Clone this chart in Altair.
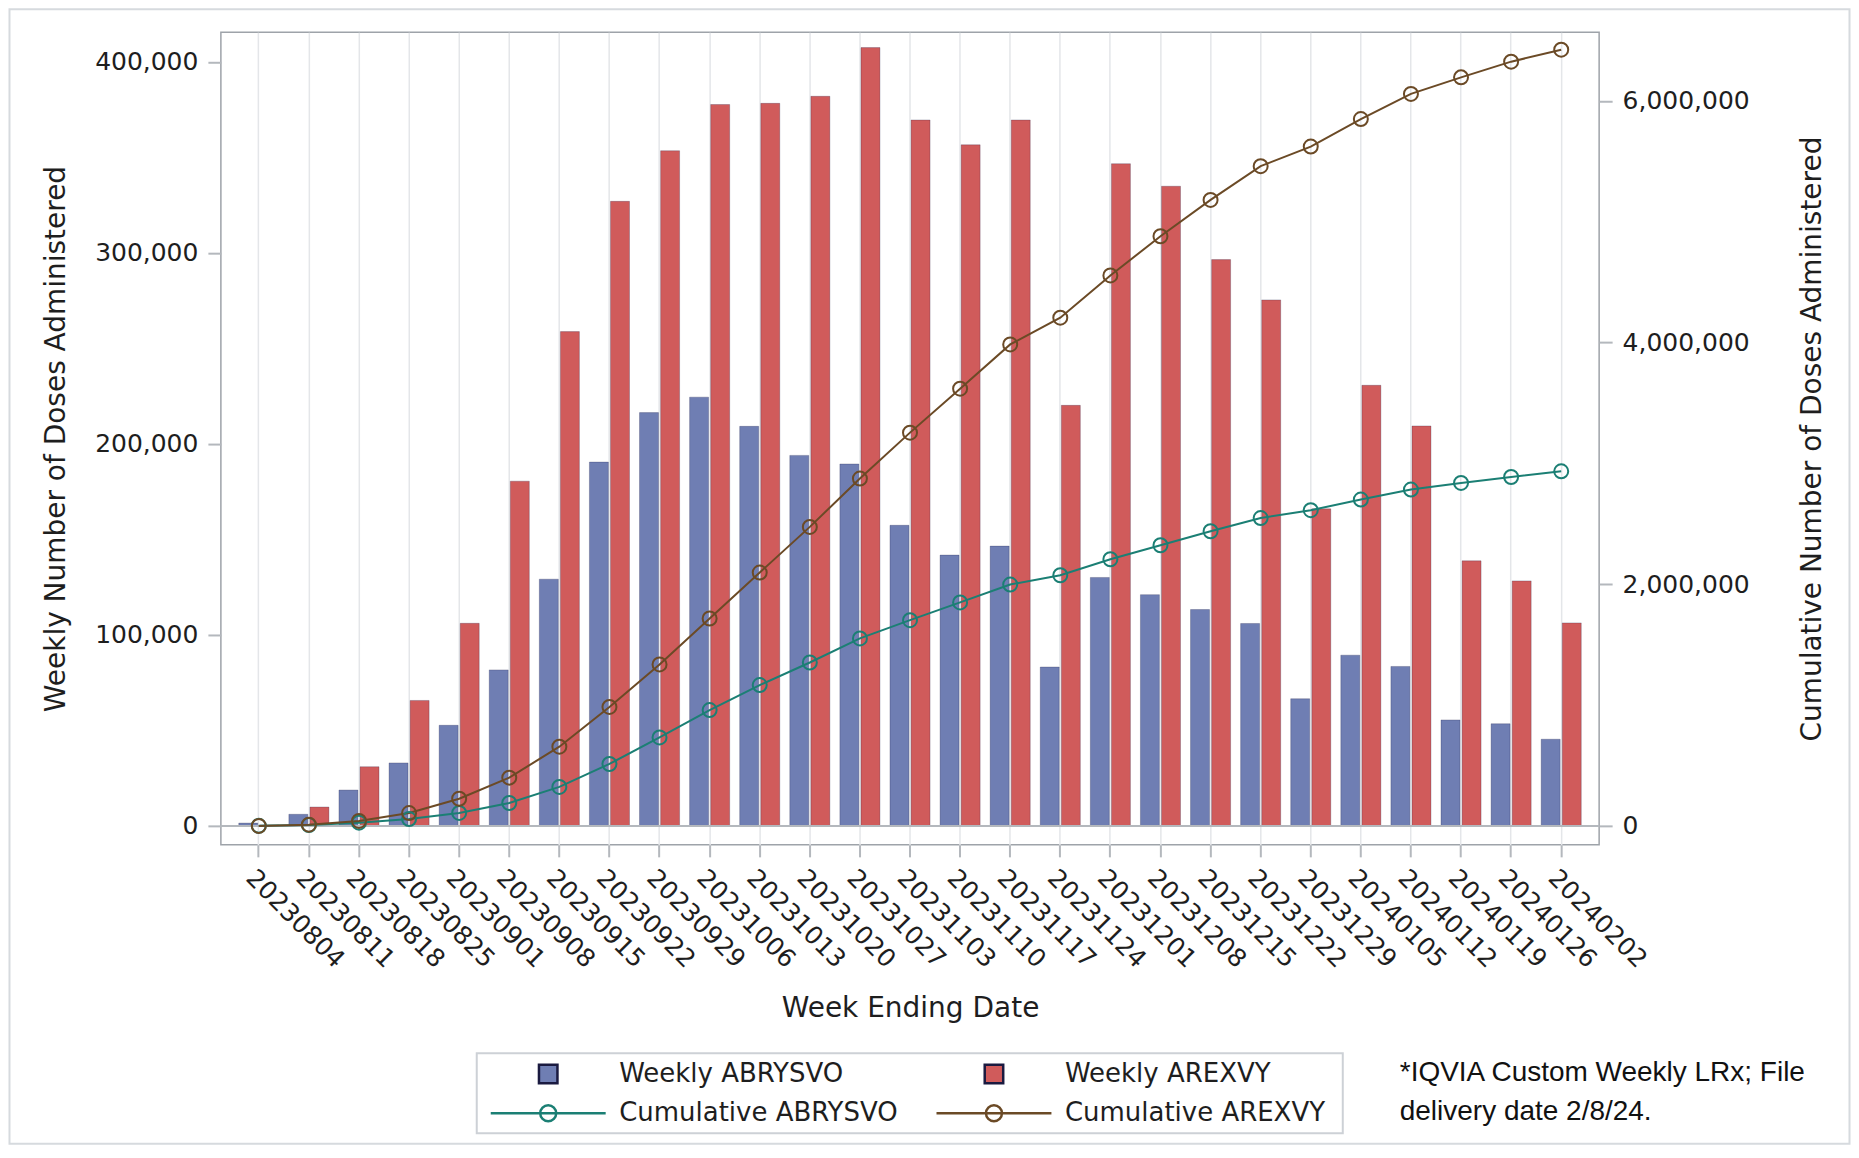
import altair as alt
import pandas as pd

# ---------------- data ----------------
dates = ["20230804", "20230811", "20230818", "20230825", "20230901", "20230908",
         "20230915", "20230922", "20230929", "20231006", "20231013", "20231020",
         "20231027", "20231103", "20231110", "20231117", "20231124", "20231201",
         "20231208", "20231215", "20231222", "20231229", "20240105", "20240112",
         "20240119", "20240126", "20240202"]

weekly_abrysvo = [1500, 6100, 18800, 33000, 52700, 81700, 129200, 190500, 216400,
                  224500, 209200, 194000, 189500, 157400, 141800, 146500, 83200,
                  130100, 121100, 113300, 106000, 66600, 89400, 83500, 55500,
                  53500, 45400]

weekly_arexvy = [500, 9900, 31000, 65700, 106100, 180500, 258800, 327000, 353500,
                 377700, 378300, 382000, 407500, 369600, 356600, 369600, 220200,
                 346700, 334900, 296500, 275400, 166000, 230700, 209400, 138800,
                 128300, 106300]

cum_abrysvo = [1500, 7600, 27000, 57000, 108000, 190000, 323000, 513000, 733000,
               959000, 1166000, 1353000, 1552000, 1703000, 1850000, 1998000,
               2075000, 2207000, 2323000, 2439000, 2548000, 2613000, 2701000,
               2784000, 2839000, 2888000, 2935000]

cum_arexvy = [500, 10400, 41400, 107000, 225000, 400000, 656000, 985000, 1337000,
              1717000, 2097000, 2475000, 2875000, 3255000, 3619000, 3985000,
              4206000, 4556000, 4880000, 5181000, 5460000, 5622000, 5850000,
              6058000, 6195000, 6325000, 6424000]

weekly_names = ["Weekly ABRYSVO", "Weekly AREXVY"]
cum_names = ["Cumulative ABRYSVO", "Cumulative AREXVY"]
weekly_colors = ["#6F7EB3", "#D05B5B"]
cum_colors = ["#1B7F74", "#6B4A26"]

left_ticks = [0, 100000, 200000, 300000, 400000]
right_ticks = [0, 2000000, 4000000, 6000000]
zero_level = [0]

footnote_lines = ["*IQVIA Custom Weekly LRx; File", "delivery date 2/8/24."]

# ---------------- tables ----------------
n = len(dates)
weekly = pd.DataFrame({
    "date": dates * 2,
    "series": [weekly_names[0]] * n + [weekly_names[1]] * n,
    "value": weekly_abrysvo + weekly_arexvy,
})
cum = pd.DataFrame({
    "date": dates * 2,
    "series": [cum_names[0]] * n + [cum_names[1]] * n,
    "value": cum_abrysvo + cum_arexvy,
})
zero_df = pd.DataFrame({"v": zero_level})
one_row = pd.DataFrame({"k": [0]})

# ---------------- style ----------------
W, H = 1379, 813
FONT = "DejaVu Sans"
TXT = "#1e1e1e"
TICK = "#b4b8bd"

sq = 18.5
unit = sq / 2.0
half_line = 57.5 / unit
r = 8.0 / unit
line_circle = (f"M{-half_line:.3f},0H{half_line:.3f}"
               f"M{r:.3f},0A{r:.3f},{r:.3f},0,1,1,{-r:.3f},0"
               f"A{r:.3f},{r:.3f},0,1,1,{r:.3f},0")

common_legend = dict(
    title=None, orient="none", direction="horizontal", columns=2, rowPadding=0, padding=0,
    labelFont=FONT, labelFontSize=26, labelColor=TXT, labelLimit=500,
    labelOffset=58, symbolOffset=44.5, symbolSize=sq * sq, symbolStrokeWidth=2.5,
    symbolOpacity=1,
)
bar_legend = alt.Legend(legendX=270, legendY=1029, columnPadding=93,
                        symbolType="square", **common_legend)
line_legend = alt.Legend(legendX=270, legendY=1068, columnPadding=33,
                         symbolType=line_circle, symbolFillColor="transparent",
                         **common_legend)

x_axis = alt.Axis(
    title="Week Ending Date",
    labelAngle=45, labelAlign="left", labelBaseline="top",
    labelFont=FONT, labelFontSize=25, labelColor=TXT, labelPadding=8,
    labelOverlap=False, labelLimit=400,
    tickSize=12, tickColor=TICK, tickWidth=2,
    grid=True, gridColor="#e4e6e9", gridWidth=1.5,
    domain=False,
    titleFont=FONT, titleFontSize=28, titleFontWeight="normal", titleColor=TXT,
    titleX=W / 2, titleY=164, titleAlign="center", titleBaseline="middle",
)
x_enc = alt.X("date:N", sort=dates,
              scale=alt.Scale(domain=dates, paddingInner=0.2, paddingOuter=0.357),
              axis=x_axis)

left_axis = alt.Axis(
    title="Weekly Number of Doses Administered",
    values=left_ticks, format=",.0f",
    labelFont=FONT, labelFontSize=25, labelColor=TXT, labelPadding=10,
    tickSize=13, tickColor=TICK, tickWidth=2,
    grid=False, domain=False,
    titleFont=FONT, titleFontSize=28, titleFontWeight="normal", titleColor=TXT,
    titleAngle=270, titleX=-164, titleY=H / 2, titleAlign="center", titleBaseline="middle",
)
right_axis = alt.Axis(
    title="Cumulative Number of Doses Administered", orient="right",
    values=right_ticks, format=",.0f",
    labelFont=FONT, labelFontSize=25, labelColor=TXT, labelPadding=10,
    tickSize=13, tickColor=TICK, tickWidth=2,
    grid=False, domain=False,
    titleFont=FONT, titleFontSize=28, titleFontWeight="normal", titleColor=TXT,
    titleAngle=270, titleX=213, titleY=H / 2, titleAlign="center", titleBaseline="middle",
)
left_scale = alt.Scale(domain=[-9900, 415500], nice=False, zero=False)
right_scale = alt.Scale(domain=[-156300, 6568000], nice=False, zero=False)

# ---------------- layers ----------------
bars = alt.Chart(weekly).mark_bar(stroke="#1a1a40", strokeOpacity=0.25, strokeWidth=1).encode(
    x=x_enc,
    xOffset=alt.XOffset("series:N", sort=weekly_names,
                        scale=alt.Scale(domain=weekly_names, paddingInner=0.1)),
    y=alt.Y("value:Q", scale=left_scale, axis=left_axis),
    color=alt.Color("series:N", scale=alt.Scale(domain=weekly_names, range=weekly_colors),
                    legend=bar_legend),
)
zero_rule = alt.Chart(zero_df).mark_rule(color=TICK, strokeWidth=2).encode(
    y=alt.Y("v:Q", scale=left_scale, axis=left_axis),
)
stroke_enc = alt.Stroke("series:N", scale=alt.Scale(domain=cum_names, range=cum_colors),
                        legend=line_legend)
lines = alt.Chart(cum).mark_line(strokeWidth=2).encode(
    x=x_enc,
    y=alt.Y("value:Q", scale=right_scale, axis=right_axis),
    stroke=stroke_enc,
)
points = alt.Chart(cum).mark_point(size=196, strokeWidth=2, filled=False, opacity=1).encode(
    x=x_enc,
    y=alt.Y("value:Q", scale=right_scale, axis=right_axis),
    stroke=stroke_enc,
)

border = alt.Chart(one_row).mark_rect(filled=False, color="#d6dade", strokeWidth=2).encode(
    x=alt.value(-211.5), x2=alt.value(1629.5), y=alt.value(-23), y2=alt.value(1112),
)
legend_box = alt.Chart(one_row).mark_rect(filled=False, color="#cdd1d6", strokeWidth=2).encode(
    x=alt.value(256), x2=alt.value(1122.5), y=alt.value(1021.5), y2=alt.value(1101.5),
)
footnote = alt.Chart(one_row).mark_text(
    text=footnote_lines, align="left", baseline="alphabetic",
    font="Liberation Sans", fontSize=28, lineHeight=39, color="#111111",
).encode(x=alt.value(1179.5), y=alt.value(1049))

left_layer = alt.layer(bars, zero_rule)
right_layer = alt.layer(lines, points)

chart = alt.layer(border, legend_box, left_layer, right_layer, footnote).resolve_scale(
    y="independent"
).properties(
    width=W, height=H, padding=0, background="white"
).configure_view(
    stroke="#9ea3a9", strokeWidth=1.5
)

chart.save("out.html", embed_options={"renderer": "svg", "actions": False})
